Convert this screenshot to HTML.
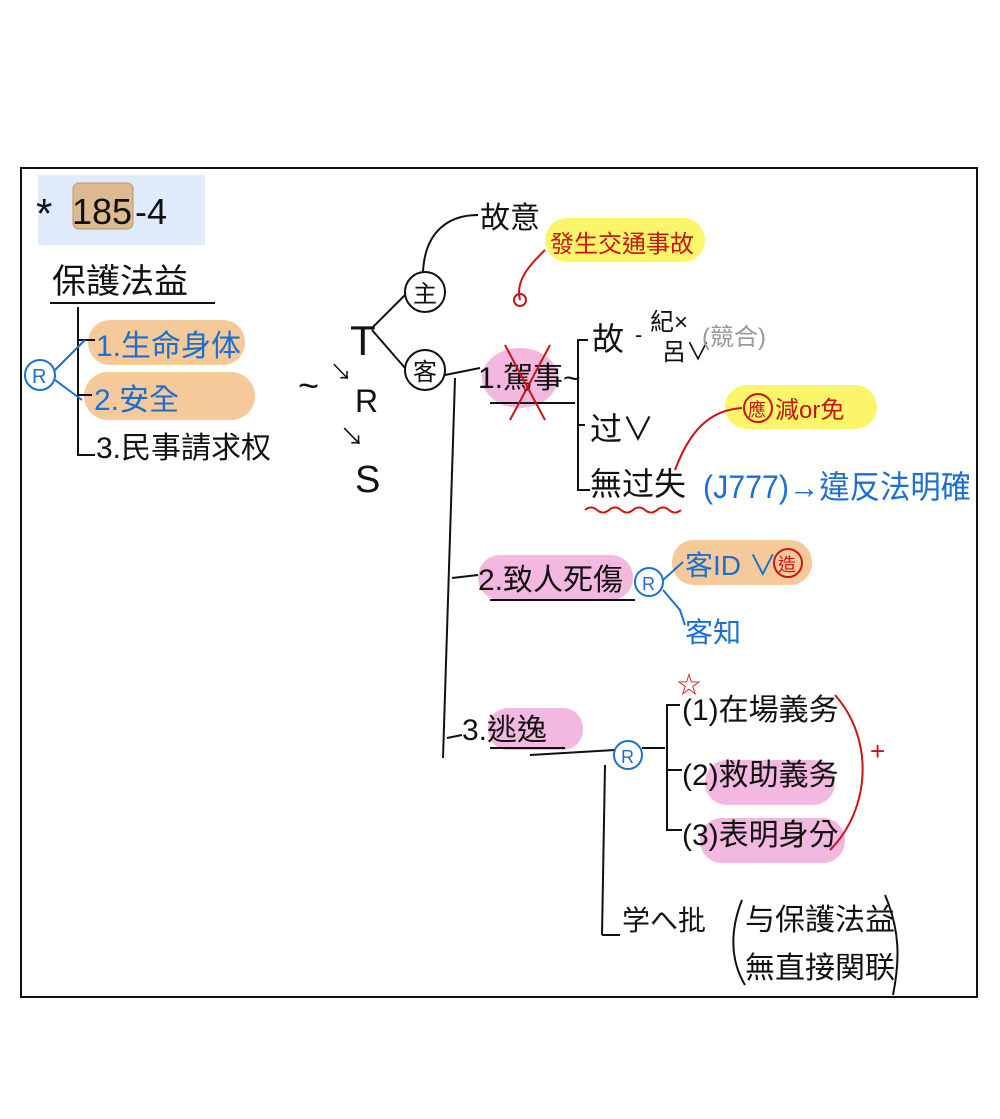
<!DOCTYPE html>
<html><head><meta charset="utf-8"><style>
html,body{margin:0;padding:0;background:#fff}
svg{display:block}
text{font-family:"Liberation Sans","Noto Sans CJK TC",sans-serif}
</style></head><body>
<svg width="1000" height="1119" viewBox="0 0 1000 1119" xmlns="http://www.w3.org/2000/svg">
<rect x="21" y="168" width="956" height="829" fill="#fff" stroke="#111" stroke-width="2"/>
<rect x="38" y="175" width="167" height="70" fill="#dfeafb"/>
<rect x="73" y="183" width="60" height="46" rx="6" fill="#dcb98f" stroke="#b8956a"/>
<rect x="88" y="320" width="157" height="45" rx="22" fill="#f5c99a"/>
<rect x="84" y="372" width="171" height="48" rx="24" fill="#f5c99a"/>
<rect x="545" y="218" width="160" height="44" rx="22" fill="#fbf56a"/>
<ellipse cx="520" cy="378" rx="38" ry="30" fill="#f3b8e0"/>
<rect x="725" y="385" width="152" height="44" rx="22" fill="#fbf56a"/>
<rect x="478" y="555" width="155" height="45" rx="22" fill="#f3b8e0"/>
<rect x="672" y="540" width="140" height="45" rx="22" fill="#f5c99a"/>
<rect x="488" y="708" width="95" height="42" rx="20" fill="#f3b8e0"/>
<rect x="705" y="760" width="130" height="45" rx="22" fill="#f3b8e0"/>
<rect x="700" y="818" width="145" height="45" rx="22" fill="#f3b8e0"/>
<text x="36" y="228" font-size="42" fill="#111">*</text>
<text x="72" y="224" font-size="36" fill="#111">185</text>
<text x="135" y="224" font-size="36" fill="#111">-4</text>
<text x="52" y="293" font-size="34" fill="#111">保護法益</text>
<line x1="50" y1="303" x2="215" y2="303" stroke="#111" stroke-width="2"/>
<polyline points="78,307 78,455 95,455" fill="none" stroke="#111" stroke-width="2"/>
<line x1="78" y1="340" x2="95" y2="340" stroke="#111" stroke-width="2"/>
<line x1="78" y1="395" x2="92" y2="395" stroke="#111" stroke-width="2"/>
<text x="96" y="356" font-size="30" fill="#1a6fd0">1.生命身体</text>
<text x="94" y="410" font-size="30" fill="#1a6fd0">2.安全</text>
<text x="96" y="458" font-size="30" fill="#111">3.民事請求权</text>
<circle cx="40" cy="375" r="15" fill="none" stroke="#1a6fd0" stroke-width="2"/>
<text x="32" y="383" font-size="20" fill="#1a6fd0">R</text>
<polyline points="55,370 85,340" fill="none" stroke="#1a6fd0" stroke-width="2"/>
<polyline points="55,380 82,400" fill="none" stroke="#1a6fd0" stroke-width="2"/>
<text x="298" y="398" font-size="36" fill="#111">~</text>
<text x="330" y="380" font-size="22" fill="#111">↘</text>
<text x="350" y="355" font-size="42" fill="#111">T</text>
<text x="355" y="412" font-size="32" fill="#111">R</text>
<text x="340" y="445" font-size="24" fill="#111">↘</text>
<text x="355" y="492" font-size="38" fill="#111">S</text>
<path d="M372,328 L405,295 M372,330 L405,368" fill="none" stroke="#111" stroke-width="2"/>
<circle cx="425" cy="292" r="20" fill="none" stroke="#111" stroke-width="2"/>
<text x="413" y="302" font-size="24" fill="#111">主</text>
<circle cx="425" cy="370" r="20" fill="none" stroke="#111" stroke-width="2"/>
<text x="413" y="380" font-size="24" fill="#111">客</text>
<path d="M423,272 C425,230 450,215 478,215" fill="none" stroke="#111" stroke-width="2"/>
<text x="480" y="228" font-size="30" fill="#111">故意</text>
<text x="550" y="252" font-size="24" fill="#c81414">發生交通事故</text>
<path d="M520,300 C515,280 530,265 545,250" fill="none" stroke="#c81414" stroke-width="2"/>
<circle cx="520" cy="300" r="6" fill="none" stroke="#c81414" stroke-width="2"/>
<line x1="445" y1="375" x2="480" y2="368" stroke="#111" stroke-width="2"/>
<line x1="455" y1="378" x2="443" y2="758" stroke="#111" stroke-width="2"/>
<text x="478" y="388" font-size="30" fill="#111">1.駕事~</text>
<line x1="490" y1="403" x2="575" y2="403" stroke="#111" stroke-width="2"/>
<path d="M505,345 L545,420 M550,345 L510,420" stroke="#c81414" stroke-width="2"/>
<polyline points="588,340 578,340 578,490 590,490" fill="none" stroke="#111" stroke-width="2"/>
<line x1="578" y1="425" x2="585" y2="425" stroke="#111" stroke-width="2"/>
<text x="592" y="350" font-size="32" fill="#111">故</text>
<text x="635" y="342" font-size="22" fill="#111">-</text>
<text x="650" y="330" font-size="24" fill="#111">紀×</text>
<text x="662" y="360" font-size="24" fill="#111">呂∨</text>
<text x="702" y="345" font-size="24" fill="#999">(競合)</text>
<text x="590" y="440" font-size="32" fill="#111">过∨</text>
<text x="590" y="495" font-size="32" fill="#111">無过失</text>
<path d="M585,510 q6,-5 12,0 t12,0 t12,0 t12,0 t12,0 t12,0 t12,0 t12,0" fill="none" stroke="#c81414" stroke-width="2"/>
<path d="M675,470 C690,430 710,410 742,408" fill="none" stroke="#c81414" stroke-width="2"/>
<circle cx="758" cy="408" r="14" fill="none" stroke="#c81414" stroke-width="2"/>
<text x="748" y="416" font-size="18" fill="#c81414">應</text>
<text x="775" y="418" font-size="24" fill="#c81414">減or免</text>
<text x="703" y="498" font-size="32" fill="#1a6fd0" textLength="268" lengthAdjust="spacingAndGlyphs">(J777)→違反法明確</text>
<line x1="452" y1="578" x2="478" y2="575" stroke="#111" stroke-width="2"/>
<text x="478" y="590" font-size="30" fill="#111">2.致人死傷</text>
<line x1="490" y1="600" x2="635" y2="600" stroke="#111" stroke-width="2"/>
<circle cx="649" cy="582" r="14" fill="none" stroke="#1a6fd0" stroke-width="2"/>
<text x="642" y="590" font-size="18" fill="#1a6fd0">R</text>
<path d="M663,580 L683,562 M663,590 L680,610 L685,625" fill="none" stroke="#1a6fd0" stroke-width="2"/>
<text x="685" y="575" font-size="28" fill="#1a6fd0">客ID ∨</text>
<circle cx="788" cy="563" r="14" fill="none" stroke="#c81414" stroke-width="2"/>
<text x="778" y="571" font-size="18" fill="#c81414">造</text>
<text x="685" y="642" font-size="28" fill="#1a6fd0">客知</text>
<line x1="447" y1="738" x2="462" y2="735" stroke="#111" stroke-width="2"/>
<text x="462" y="740" font-size="30" fill="#111">3.逃逸</text>
<line x1="490" y1="748" x2="565" y2="748" stroke="#111" stroke-width="2"/>
<polyline points="530,755 615,750" fill="none" stroke="#111" stroke-width="2"/>
<circle cx="628" cy="755" r="14" fill="none" stroke="#1a6fd0" stroke-width="2"/>
<text x="621" y="763" font-size="18" fill="#1a6fd0">R</text>
<line x1="642" y1="748" x2="665" y2="748" stroke="#111" stroke-width="2"/>
<polyline points="680,705 667,705 667,830 682,830" fill="none" stroke="#111" stroke-width="2"/>
<line x1="667" y1="770" x2="682" y2="770" stroke="#111" stroke-width="2"/>
<line x1="605" y1="765" x2="602" y2="935" stroke="#111" stroke-width="2"/>
<line x1="602" y1="935" x2="620" y2="935" stroke="#111" stroke-width="2"/>
<text x="682" y="720" font-size="30" fill="#111">(1)在場義务</text>
<text x="682" y="785" font-size="30" fill="#111">(2)救助義务</text>
<text x="682" y="845" font-size="30" fill="#111">(3)表明身分</text>
<text x="677" y="693" font-size="24" fill="#c81414">☆</text>
<path d="M835,695 C875,740 870,810 830,850" fill="none" stroke="#c81414" stroke-width="2"/>
<text x="870" y="760" font-size="26" fill="#c81414">+</text>
<text x="622" y="930" font-size="28" fill="#111">学へ批</text>
<path d="M742,900 C730,930 730,960 745,985" fill="none" stroke="#111" stroke-width="2"/>
<path d="M885,895 C900,930 900,960 893,995" fill="none" stroke="#111" stroke-width="2"/>
<text x="745" y="930" font-size="30" fill="#111">与保護法益</text>
<text x="745" y="978" font-size="30" fill="#111">無直接関联</text>
</svg>
</body></html>
